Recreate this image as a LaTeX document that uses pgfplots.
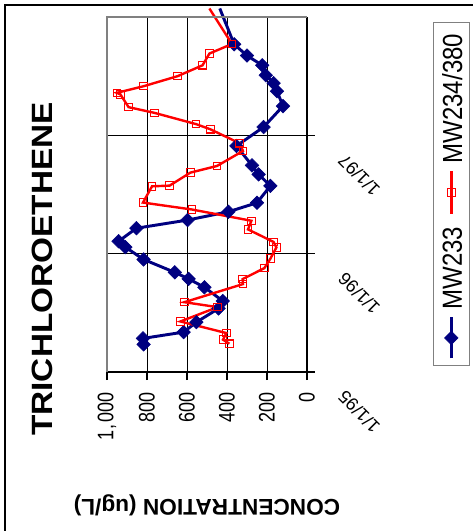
\documentclass[border=0pt]{standalone}
\usepackage{pgfplots}
\pgfplotsset{compat=1.18}
\usepackage{pgfplotstable}
\usepackage{fontspec}
\setmainfont{Liberation Sans}
\definecolor{navyb}{RGB}{0,0,128}
\definecolor{redc}{RGB}{255,0,0}

\pgfplotstableread{
t c
0.233 817
0.284 820
0.337 617
0.421 553
0.537 442
0.600 421
0.716 513
0.787 592
0.842 661
0.951 817
1.055 908
1.105 942
1.215 853
1.284 597
1.354 393
1.430 250
1.573 183
1.670 242
1.746 275
1.910 353
2.070 217
2.247 120
2.373 150
2.441 167
2.508 206
2.592 224
2.674 300
2.769 364
}\mwA

\pgfplotstableread{
t c
2.769 364
3.072 436
}\mwAext

\pgfplotstableread{
t c
0.239 388
0.273 420
0.329 403
0.427 633
0.548 447
0.590 613
0.743 320
0.785 322
0.878 213
0.958 183
1.053 153
1.099 167
1.205 295
1.278 278
1.373 575
1.432 820
1.569 775
1.575 687
1.685 583
1.741 450
1.868 320
1.933 337
2.051 483
2.095 555
2.190 763
2.238 892
2.346 933
2.359 951
2.415 817
2.500 647
2.592 522
2.691 488
2.772 375
}\mwB

\pgfplotstableread{
t c
2.772 375
3.072 488
}\mwBext

\begin{document}
\begin{tikzpicture}
\begin{axis}[
  scale only axis, width=150pt, height=266.25pt,
  x dir=reverse, xmin=0, xmax=1000, ymin=0, ymax=3,
  clip=false,
  axis x line*=bottom, axis y line*=right,
  axis line style={black, line width=0.8pt},
  tick align=outside, major tick length=6pt,
  tick style={black, line width=0.8pt},
  xtick={200,400,600,800},
  xticklabels={\scalebox{1}[1.25]{200},\scalebox{1}[1.25]{400},\scalebox{1}[1.25]{600},\scalebox{1}[1.25]{800}},
  extra x ticks={0,1000},
  extra x tick labels={\scalebox{1}[1.25]{0},\scalebox{1}[1.25]{1\kern1pt,\kern1pt000}},
  extra x tick style={grid=none},
  xticklabel style={yshift=-6pt, rotate=90, anchor=east, font=\fontsize{13.5}{14}\selectfont},
  ytick={0,1,2},
  yticklabels={1/1/95,1/1/96,1/1/97},
  yticklabel style={anchor=center, xshift=33pt, yshift=-30pt, rotate=135, font=\fontsize{13.5}{14}\selectfont},
  xmajorgrids, ymajorgrids,
  grid style={black, line width=0.6pt},
  xlabel={CONCENTRATION (ug/L)},
  xlabel style={at={(axis description cs:0.5,-0.375)}, anchor=center, rotate=180, font=\bfseries\fontsize{17}{19}\selectfont},
]
\addplot[color=navyb, line width=2.2pt, mark=square*, mark size=3.6pt, mark options={rotate=45, solid, line width=0.4pt}] table[x=c, y=t] {\mwA};
\addplot[color=redc, line width=1.8pt, mark=square, mark size=2.8pt, mark options={solid, line width=0.8pt}] table[x=c, y=t] {\mwB};
\addplot[forget plot, color=navyb, line width=2.2pt, no marks] table[x=c, y=t] {\mwAext};
\addplot[forget plot, color=redc, line width=1.8pt, no marks] table[x=c, y=t] {\mwBext};
% plot area border (gray, top and left)
\draw[gray, line width=0.8pt] (axis description cs:0,0) -- (axis description cs:0,1) -- (axis description cs:1,1);
% title
\node[rotate=90, font=\bfseries\fontsize{25}{27}\selectfont] at (axis description cs:-0.325,0.29) {\scalebox{1}[0.88]{TRICHLOROETHENE}};
% legend (rotated like the whole chart)
\draw[gray, line width=0.8pt] (axis cs:-631.5,0.056) rectangle (axis cs:-811.5,2.955);
\addplot[forget plot, color=navyb, line width=2.2pt, mark=square*, mark size=3.6pt, mark indices={2}, mark options={rotate=45, solid, line width=0.4pt}] coordinates {(-721.5,0.115) (-721.5,0.288) (-721.5,0.461)};
\node[rotate=90, font=\fontsize{18}{20}\selectfont] at (axis cs:-726.5,0.878) {\scalebox{1}[1.15]{MW233}};
\addplot[forget plot, color=redc, line width=1.8pt, mark=square, mark size=2.8pt, mark indices={2}, mark options={solid, line width=0.8pt}] coordinates {(-721.5,1.337) (-721.5,1.518) (-721.5,1.699)};
\node[rotate=90, font=\fontsize{18}{20}\selectfont] at (axis cs:-726.5,2.31) {\scalebox{1}[1.15]{MW234/380}};
\end{axis}
\draw[line width=1.1pt] (-76.5pt,-130pt) -- (-76.5pt,275.25pt) -- (290pt,275.25pt);
\pgfresetboundingbox
\useasboundingbox (-80.25pt,-119.25pt) rectangle (273.75pt,279pt);
\end{tikzpicture}
\end{document}
